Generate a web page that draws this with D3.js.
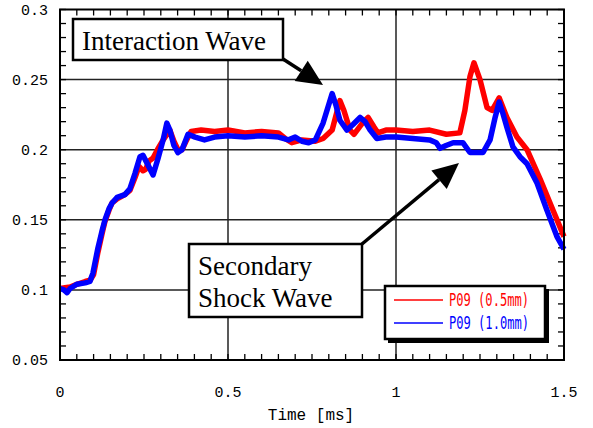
<!DOCTYPE html>
<html><head><meta charset="utf-8">
<script src="https://cdn.jsdelivr.net/npm/d3@7"></script>
<style>body{margin:0;background:#fff}svg{display:block}</style>
</head><body>
<svg id="c" width="593" height="428"></svg>
<script>
// ---- data ----
const xTicks = [0, 0.5, 1, 1.5];
const xTickLabels = ["0", "0.5", "1", "1.5"];
const yTicks = [0.05, 0.1, 0.15, 0.2, 0.25, 0.3];
const yTickLabels = ["0.05", "0.1", "0.15", "0.2", "0.25", "0.3"];
const seriesNames = ["P09 (0.5mm)", "P09 (1.0mm)"];
const seriesColors = ["#ff0000", "#0000ff"];

const redT = [0,0.03,0.05,0.075,0.09,0.1,0.113,0.125,0.134,0.146,0.155,0.17,0.193,0.208,0.223,0.235,0.247,0.255,0.265,0.277,0.29,0.307,0.327,0.339,0.351,0.363,0.375,0.39,0.42,0.46,0.5,0.55,0.6,0.65,0.67,0.69,0.72,0.76,0.783,0.81,0.833,0.845,0.863,0.875,0.9,0.917,0.935,0.946,0.97,1.0,1.05,1.1,1.15,1.19,1.205,1.22,1.232,1.25,1.271,1.286,1.307,1.33,1.36,1.39,1.429,1.467,1.5];
const redV = [0.101,0.102,0.104,0.106,0.107,0.111,0.127,0.140,0.149,0.157,0.162,0.165,0.168,0.171,0.180,0.188,0.185,0.186,0.192,0.194,0.200,0.207,0.214,0.206,0.200,0.200,0.206,0.213,0.214,0.213,0.214,0.212,0.213,0.212,0.208,0.205,0.207,0.206,0.208,0.214,0.235,0.228,0.214,0.211,0.219,0.223,0.216,0.212,0.214,0.214,0.213,0.214,0.211,0.212,0.228,0.252,0.262,0.250,0.230,0.228,0.237,0.223,0.209,0.200,0.179,0.157,0.138];

const blueT = [0,0.012,0.021,0.03,0.05,0.075,0.089,0.098,0.113,0.125,0.134,0.146,0.155,0.17,0.193,0.208,0.223,0.238,0.247,0.262,0.277,0.292,0.307,0.318,0.327,0.339,0.351,0.363,0.381,0.402,0.43,0.46,0.5,0.55,0.6,0.65,0.68,0.7,0.72,0.74,0.76,0.783,0.81,0.821,0.833,0.854,0.872,0.893,0.908,0.923,0.943,0.97,1.0,1.05,1.1,1.12,1.131,1.149,1.17,1.199,1.22,1.259,1.28,1.295,1.307,1.318,1.33,1.348,1.369,1.39,1.42,1.449,1.479,1.5];
const blueV = [0.101,0.100,0.098,0.101,0.104,0.105,0.106,0.112,0.130,0.142,0.150,0.158,0.162,0.166,0.168,0.172,0.183,0.195,0.196,0.189,0.182,0.194,0.207,0.219,0.214,0.203,0.198,0.200,0.211,0.209,0.207,0.209,0.210,0.209,0.210,0.209,0.207,0.209,0.206,0.205,0.207,0.219,0.240,0.232,0.221,0.214,0.218,0.223,0.220,0.214,0.208,0.209,0.209,0.208,0.207,0.205,0.201,0.203,0.205,0.205,0.198,0.198,0.207,0.223,0.234,0.226,0.216,0.202,0.195,0.190,0.176,0.157,0.138,0.129];

// ---- layout ----
const svg = d3.select("#c");
const L = 60, R = 564, T = 9.5, B = 360;
const x = d3.scaleLinear().domain([0, 1.5]).range([L, R]);
const y = d3.scaleLinear().domain([0.05, 0.3]).range([B, T]);

// grid
const g = svg.append("g");
g.selectAll(".gx").data([0.5, 1]).join("line")
  .attr("x1", d => x(d)).attr("x2", d => x(d)).attr("y1", T).attr("y2", B)
  .attr("stroke", "#222").attr("stroke-width", 1.5);
g.selectAll(".gy").data([0.1, 0.15, 0.2, 0.25]).join("line")
  .attr("y1", d => y(d)).attr("y2", d => y(d)).attr("x1", L).attr("x2", R)
  .attr("stroke", "#222").attr("stroke-width", 1.5);

// minor ticks (inward) on all four sides
const xMinor = d3.range(0, 31).map(i => i * 0.05);
const yMinor = d3.range(0, 26).map(i => 0.05 + i * 0.01);
const tk = svg.append("g").attr("stroke", "#000").attr("stroke-width", 1.3);
tk.selectAll(".bt").data(xMinor).join("line")
  .attr("x1", d => x(d)).attr("x2", d => x(d)).attr("y1", B).attr("y2", B - 6);
tk.selectAll(".tt").data(xMinor).join("line")
  .attr("x1", d => x(d)).attr("x2", d => x(d)).attr("y1", T).attr("y2", T + 6);
tk.selectAll(".lt").data(yMinor).join("line")
  .attr("y1", d => y(d)).attr("y2", d => y(d)).attr("x1", L).attr("x2", L + 6);
tk.selectAll(".rt").data(yMinor).join("line")
  .attr("y1", d => y(d)).attr("y2", d => y(d)).attr("x1", R).attr("x2", R - 6);

// series
const line = d3.line().x(d => x(d[0])).y(d => y(d[1]));
const redData = redT.map((t, i) => [t, redV[i]]);
const blueData = blueT.map((t, i) => [t, blueV[i]]);
svg.append("path").datum(redData).attr("d", line).attr("fill", "none")
  .attr("stroke", seriesColors[0]).attr("stroke-width", 5.5).attr("stroke-linejoin", "round");
svg.append("path").datum(blueData).attr("d", line).attr("fill", "none")
  .attr("stroke", seriesColors[1]).attr("stroke-width", 5.5).attr("stroke-linejoin", "round");

// frame
svg.append("rect").attr("x", L).attr("y", T).attr("width", R - L).attr("height", B - T)
  .attr("fill", "none").attr("stroke", "#000").attr("stroke-width", 2);

// axis labels
const mono = "'Liberation Mono','DejaVu Sans Mono',monospace";
svg.selectAll(".yl").data(yTicks).join("text")
  .attr("x", 48).attr("y", d => y(d) + 5).attr("text-anchor", "end")
  .attr("font-family", mono).attr("font-size", 15).attr("fill", "#000")
  .text((d, i) => yTickLabels[i]);
svg.selectAll(".xl").data(xTicks).join("text")
  .attr("x", d => x(d)).attr("y", 397).attr("text-anchor", "middle")
  .attr("font-family", mono).attr("font-size", 15).attr("fill", "#000")
  .text((d, i) => xTickLabels[i]);
svg.append("text").attr("x", 311).attr("y", 420).attr("text-anchor", "middle")
  .attr("font-family", mono).attr("font-size", 16).attr("fill", "#000")
  .text("Time [ms]");

// annotations
const serif = "'Liberation Serif','Times New Roman',serif";
function arrow(x0, y0, x1, y1) {
  const ang = Math.atan2(y1 - y0, x1 - x0);
  const len = 26, half = 12;
  const bx = x1 - len * Math.cos(ang), by = y1 - len * Math.sin(ang);
  svg.append("line").attr("x1", x0).attr("y1", y0).attr("x2", bx).attr("y2", by)
    .attr("stroke", "#000").attr("stroke-width", 3.5);
  const px = -Math.sin(ang) * half, py = Math.cos(ang) * half;
  svg.append("path").attr("d", `M${x1},${y1}L${bx + px},${by + py}L${bx - px},${by - py}Z`)
    .attr("fill", "#000");
}
// Interaction wave box
svg.append("rect").attr("x", 73).attr("y", 19).attr("width", 210).attr("height", 41)
  .attr("fill", "#fff").attr("stroke", "#000").attr("stroke-width", 2.5);
svg.append("text").attr("x", 82).attr("y", 50).attr("font-family", serif)
  .attr("font-size", 27).attr("fill", "#000").text("Interaction Wave");
arrow(283, 59, 323, 85);

// Secondary shock wave box
svg.append("rect").attr("x", 189).attr("y", 244).attr("width", 173).attr("height", 73)
  .attr("fill", "#fff").attr("stroke", "#000").attr("stroke-width", 2.5);
svg.append("text").attr("x", 198).attr("y", 275).attr("font-family", serif)
  .attr("font-size", 27).attr("fill", "#000").text("Secondary");
svg.append("text").attr("x", 198).attr("y", 307).attr("font-family", serif)
  .attr("font-size", 27).attr("fill", "#000").text("Shock Wave");
arrow(362, 244, 459, 163);

// legend
svg.append("rect").attr("x", 388).attr("y", 289).attr("width", 161).attr("height", 54).attr("fill", "#000");
svg.append("rect").attr("x", 385).attr("y", 286).attr("width", 160).attr("height", 53)
  .attr("fill", "#fff").attr("stroke", "#000").attr("stroke-width", 2.5);
const leg = svg.selectAll(".lg").data(seriesNames).join("g")
  .attr("transform", (d, i) => `translate(0,${300 + i * 23})`);
leg.append("line").attr("x1", 394).attr("x2", 443).attr("y1", 0).attr("y2", 0)
  .attr("stroke", (d, i) => seriesColors[i]).attr("stroke-width", 1.3);
leg.append("text").attr("x", 449).attr("y", 6).attr("font-family", "'DejaVu Sans Mono',monospace")
  .attr("font-size", 17).attr("textLength", 80).attr("lengthAdjust", "spacingAndGlyphs")
  .attr("fill", (d, i) => seriesColors[i]).text(d => d);
</script>
</body></html>
